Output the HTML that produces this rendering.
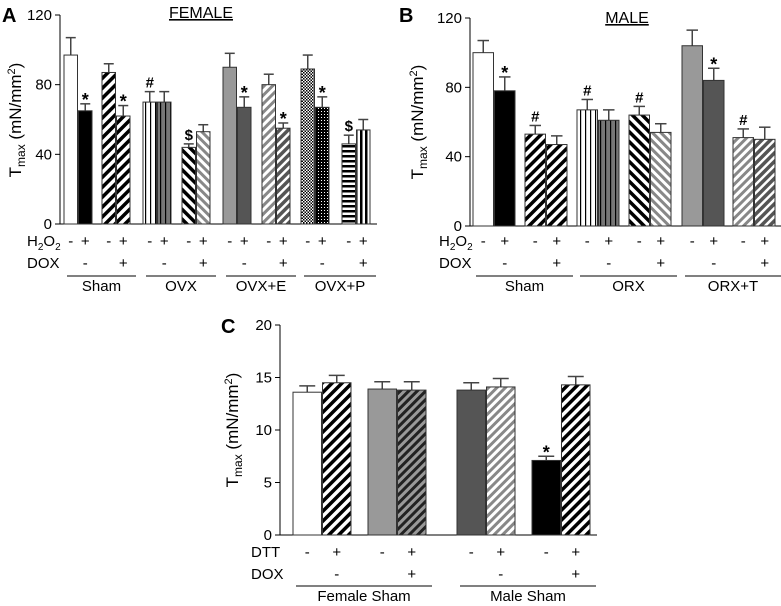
<!DOCTYPE html>
<html><head><meta charset="utf-8"><style>
body{margin:0;background:#fff;}
svg text{font-family:"Liberation Sans",Arial,sans-serif;fill:#000;}
</style></head><body>
<svg id="fig" width="781" height="601" viewBox="0 0 781 601">
<defs>
<pattern id="fwd" width="7" height="7" patternUnits="userSpaceOnUse" patternTransform="rotate(45)"><rect width="7" height="7" fill="#fff"/><rect width="3.5" height="7" fill="#000"/></pattern>
<pattern id="back" width="7" height="7" patternUnits="userSpaceOnUse" patternTransform="rotate(-45)"><rect width="7" height="7" fill="#fff"/><rect width="3.5" height="7" fill="#000"/></pattern>
<pattern id="gfwd" width="6" height="6" patternUnits="userSpaceOnUse" patternTransform="rotate(45)"><rect width="6" height="6" fill="#fff"/><rect width="3" height="6" fill="#888"/></pattern>
<pattern id="gback" width="6" height="6" patternUnits="userSpaceOnUse" patternTransform="rotate(-45)"><rect width="6" height="6" fill="#fff"/><rect width="3" height="6" fill="#888"/></pattern>
<pattern id="dfwd" width="6" height="6" patternUnits="userSpaceOnUse" patternTransform="rotate(45)"><rect width="6" height="6" fill="#fff"/><rect width="3.5" height="6" fill="#555"/></pattern>
<pattern id="gdfwd" width="6" height="6" patternUnits="userSpaceOnUse" patternTransform="rotate(45)"><rect width="6" height="6" fill="#999"/><rect width="3" height="6" fill="#222"/></pattern>
<pattern id="vw" width="5" height="5" patternUnits="userSpaceOnUse"><rect width="5" height="5" fill="#fff"/><rect width="1.2" height="5" fill="#000"/></pattern>
<pattern id="vg" width="5" height="5" patternUnits="userSpaceOnUse"><rect width="5" height="5" fill="#777"/><rect width="1.2" height="5" fill="#000"/></pattern>
<pattern id="vb" width="5" height="5" patternUnits="userSpaceOnUse"><rect width="5" height="5" fill="#fff"/><rect width="2.5" height="5" fill="#000"/></pattern>
<pattern id="hz" width="5" height="5" patternUnits="userSpaceOnUse"><rect width="5" height="5" fill="#fff"/><rect width="5" height="2.5" fill="#000"/></pattern>
<pattern id="chk" width="3" height="3" patternUnits="userSpaceOnUse"><rect width="3" height="3" fill="#fff"/><rect width="1.5" height="1.5" fill="#000"/><rect x="1.5" y="1.5" width="1.5" height="1.5" fill="#000"/></pattern>
<pattern id="dots" width="3" height="3" patternUnits="userSpaceOnUse"><rect width="3" height="3" fill="#000"/><rect width="1" height="1" fill="#fff"/></pattern>
</defs>
</svg>
<script>
// Panel A data
const aValues=[97,65,87,62,70,70,44,53,90,67,80,55,89,67,46,54];
const aErrors=[10,4,5,6,6,6,2,4,8,6,6,3,8,6,5,6];
const aMarks=["","*","","*","#","","$","","","*","","*","","*","$",""];
const aFills=["#fff","#000","url(#fwd)","url(#fwd)","url(#vw)","url(#vg)","url(#back)","url(#gback)","#999","#555","url(#gfwd)","url(#dfwd)","url(#chk)","url(#dots)","url(#hz)","url(#vb)"];
const aTicks=[0,40,80,120];
const aGroups=["Sham","OVX","OVX+E","OVX+P"];
// Panel B data
const bValues=[100,78,53,47,67,61,64,54,104,84,51,50];
const bErrors=[7,8,5,5,6,6,5,5,9,7,5,7];
const bMarks=["","*","#","","#","","#","","","*","#",""];
const bFills=["#fff","#000","url(#fwd)","url(#fwd)","url(#vw)","url(#vg)","url(#back)","url(#gback)","#999","#555","url(#gfwd)","url(#dfwd)"];
const bTicks=[0,40,80,120];
const bGroups=["Sham","ORX","ORX+T"];
// Panel C data
const cValues=[13.6,14.5,13.9,13.8,13.8,14.1,7.1,14.3];
const cErrors=[0.6,0.7,0.7,0.8,0.7,0.8,0.4,0.8];
const cMarks=["","","","","","","*",""];
const cFills=["#fff","url(#fwd)","#999","url(#gdfwd)","#555","url(#gfwd)","#000","url(#fwd)"];
const cTicks=[0,5,10,15,20];
const cGroups=["Female Sham","Male  Sham"];

const svg=document.getElementById('fig');
const NS='http://www.w3.org/2000/svg';
function el(tag,attrs,txt){const e=document.createElementNS(NS,tag);for(const k in attrs)e.setAttribute(k,attrs[k]);if(txt!==undefined)e.textContent=txt;svg.appendChild(e);return e;}

function panel(o){
  const y=v=>o.y0-(v/o.max)*(o.y0-o.yTop);
  let ax=el('line',{x1:o.ax,y1:o.yTop,x2:o.ax,y2:o.y0,stroke:'#000','stroke-width':1});
  
  let bx=el('line',{x1:o.ax-5,y1:o.y0,x2:o.axEnd,y2:o.y0,stroke:'#000','stroke-width':1});
  
  o.ticks.forEach(t=>{
    el('line',{x1:o.ax-5,y1:y(t),x2:o.ax,y2:y(t),stroke:'#000'});
    const tl=el('text',{x:o.ax-8,y:y(t)+5,'font-size':15,'text-anchor':'end'},String(t));
    
  });
  o.values.forEach((v,i)=>{
    const x=o.xs[i];
    const top=y(v),et=y(v+o.errors[i]);
    const cw=Math.max(5,o.w*0.28);
    el('line',{x1:x+o.w/2,y1:et,x2:x+o.w/2,y2:top,stroke:'#444','stroke-width':1.5});
    el('line',{x1:x+o.w/2-cw,y1:et,x2:x+o.w/2+cw,y2:et,stroke:'#444','stroke-width':1.5});
    const r=el('rect',{x:x,y:top,width:o.w,height:o.y0-top,fill:o.fills[i],stroke:'#333','stroke-width':1});
    
    if(o.marks[i]){const m=el('text',{x:x+o.w/2,y:et-4+(o.marks[i]==='*'?6:0),'font-size':o.marks[i]==='*'?18:15,'font-weight':'bold','text-anchor':'middle'},o.marks[i]);
      }
    const s=el('text',{x:x+o.w/2,y:o.r1,'font-size':15,'text-anchor':'middle'},i%2?'+':'-');
    
    if(i%2===1){const d=el('text',{x:x+o.w/2,y:o.r2,'font-size':15,'text-anchor':'middle'},Math.floor(i/2)%2?'+':'-');
      }
  });
  o.groups.forEach((g,gi)=>{
    const x1=o.xs[gi*o.per]+3,x2=o.xs[gi*o.per+o.per-1]+o.w+6;
    el('line',{x1:x1,y1:o.lineY,x2:x2,y2:o.lineY,stroke:'#000'});
    const t=el('text',{x:(x1+x2)/2,y:o.lineY+15,'font-size':15,'text-anchor':'middle'},g);
    
  });
}
function pairXs(starts,w){const r=[];starts.forEach(s=>{r.push(s);r.push(s+w+1);});return r;}

panel({id:'panel-a',ax:60,axEnd:377,yTop:15,y0:224,max:120,ticks:aTicks,values:aValues,errors:aErrors,marks:aMarks,fills:aFills,w:13.5,
  xs:pairXs([64,102,143,182,223,262,301,342],13.5),r1:246,r2:268,lineY:276,groups:aGroups,per:4});
panel({id:'panel-b',ax:470,axEnd:781,yTop:18,y0:226,max:120,ticks:bTicks,values:bValues,errors:bErrors,marks:bMarks,fills:bFills,w:20.5,
  xs:pairXs([473,525,577,629,682,733],20.5),r1:246,r2:268,lineY:276,groups:bGroups,per:4});
panel({id:'panel-c',ax:280,axEnd:597,yTop:325,y0:535,max:20,ticks:cTicks,values:cValues,errors:cErrors,marks:cMarks,fills:cFills,w:28.5,
  xs:pairXs([293,368,457,532],28.5),r1:557,r2:579,lineY:586,groups:cGroups,per:4});

function txt(name,attrs,s,html){const t=el('text',attrs);if(html)t.innerHTML=html;else t.textContent=s;return t;}
txt('panel-a-letter',{x:2,y:22,'font-size':20,'font-weight':'bold'},'A');
txt('panel-b-letter',{x:399,y:22,'font-size':20,'font-weight':'bold'},'B');
txt('panel-c-letter',{x:221,y:333,'font-size':20,'font-weight':'bold'},'C');
txt('panel-a-title',{x:201,y:18,'font-size':16,'text-anchor':'middle','text-decoration':'underline'},'FEMALE');
txt('panel-b-title',{x:627,y:23,'font-size':16,'text-anchor':'middle','text-decoration':'underline'},'MALE');
const yt='T<tspan font-size="12" dy="4">max</tspan><tspan dy="-4"> (mN/mm</tspan><tspan font-size="11" dy="-6">2</tspan><tspan dy="6">)</tspan>';
txt('panel-a-y-axis-title',{transform:'translate(21,120) rotate(-90)','font-size':17,'text-anchor':'middle'},'',yt);
txt('panel-b-y-axis-title',{transform:'translate(423,122) rotate(-90)','font-size':17,'text-anchor':'middle'},'',yt);
txt('panel-c-y-axis-title',{transform:'translate(238,430) rotate(-90)','font-size':17,'text-anchor':'middle'},'',yt);
const h2='H<tspan font-size="10" dy="4">2</tspan><tspan dy="-4">O</tspan><tspan font-size="10" dy="4">2</tspan>';
txt('panel-a-h2o2-label',{x:27,y:246,'font-size':15},'',h2);
txt('panel-a-dox-label',{x:27,y:268,'font-size':15},'DOX');
txt('panel-b-h2o2-label',{x:439,y:246,'font-size':15},'',h2);
txt('panel-b-dox-label',{x:439,y:268,'font-size':15},'DOX');
txt('panel-c-dtt-label',{x:251,y:557,'font-size':15},'DTT');
txt('panel-c-dox-label',{x:251,y:579,'font-size':15},'DOX');
</script>
</body></html>
